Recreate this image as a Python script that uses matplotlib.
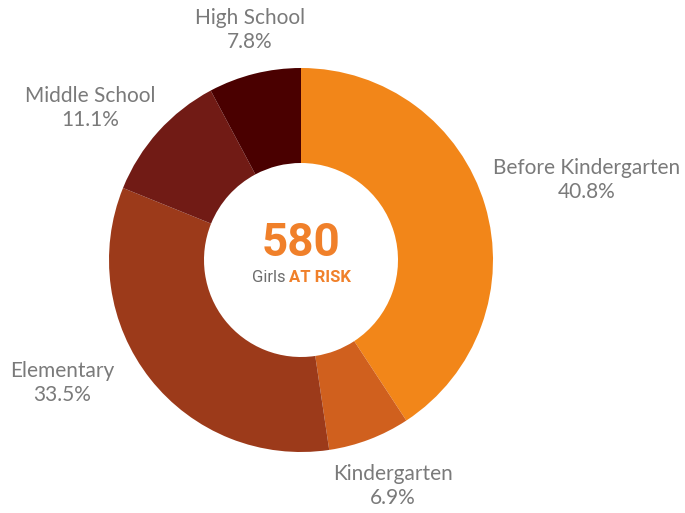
import matplotlib.pyplot as plt
from matplotlib import font_manager

# ==============================
# Data
# ==============================
labels = ["Before Kindergarten", "Kindergarten", "Elementary", "Middle School", "High School"]
shares = [40.8, 6.9, 33.5, 11.1, 7.8]
colors = ["#F28619", "#D0601E", "#9C3A1A", "#711B15", "#4A0000"]
total_girls = 580

# label anchor positions in pixels (x, y from top)
label_pos = [(587, 180), (393, 486), (62, 383), (90, 108), (250, 30)]

CX, CY = 301, 260  # donut centre in pixels
R_OUT, R_IN = 192, 97

names = {f.name for f in font_manager.fontManager.ttflist}
label_font = "Lato" if "Lato" in names else "DejaVu Sans"
narrow = "Liberation Sans Narrow" if "Liberation Sans Narrow" in names else "Roboto"

fig = plt.figure(figsize=(6.85, 5.13), dpi=100)
ax = fig.add_axes([0, 0, 1, 1])

ax.pie(shares, colors=colors, startangle=90, counterclock=False, radius=R_OUT,
       wedgeprops=dict(width=R_OUT - R_IN, linewidth=0))
ax.set_xlim(-CX, 685 - CX)
ax.set_ylim(CY - 513, CY)
ax.set_aspect("equal")
ax.axis("off")

for name, val, (px, py) in zip(labels, shares, label_pos):
    ax.text(px - CX, CY - py, f"{name}\n{val}%", ha="center", va="center",
            fontsize=15, color="#7a7a7a", family=label_font, weight="normal",
            linespacing=1.25)

# centre text
ax.text(0, CY - 243, str(total_girls), ha="center", va="center", fontsize=33,
        color="#F0802A", family=narrow, weight="bold")
ax.text(286 - CX, CY - 277, "Girls", ha="right", va="center", fontsize=12,
        color="#6d6d6d", family=narrow)
ax.text(289 - CX, CY - 277, "AT RISK", ha="left", va="center", fontsize=12,
        color="#F0802A", family=narrow, weight="bold")

fig.savefig("out.png", dpi=100)
